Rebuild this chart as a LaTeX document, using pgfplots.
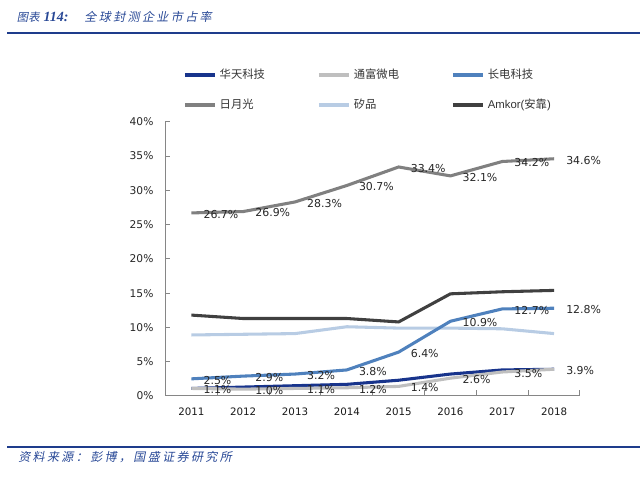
\documentclass[border=0pt]{standalone}
\usepackage{pgfplots}
\pgfplotsset{compat=1.18}
\usepackage{fontspec}
\setmainfont{DejaVu Sans}
\newfontfamily\cjk{Noto Sans CJK SC}
\newfontfamily\cjkit[FakeSlant=0.2]{Noto Sans CJK SC}
\newfontfamily\cjkitsp[FakeSlant=0.2,LetterSpace=20]{Noto Sans CJK SC}
\newfontfamily\tnr{Liberation Serif}
\newfontfamily\arial{Liberation Sans}
\definecolor{huatian}{RGB}{24,52,140}
\definecolor{tongfu}{RGB}{191,191,191}
\definecolor{changdian}{RGB}{79,129,189}
\definecolor{riyue}{RGB}{128,128,128}
\definecolor{xipin}{RGB}{184,204,228}
\definecolor{amkor}{RGB}{64,64,64}
\definecolor{axisgray}{RGB}{134,134,134}
\definecolor{titleblue}{RGB}{40,72,150}
\definecolor{ruleblue}{RGB}{30,60,140}
\pgfkeys{/pgf/number format/assume math mode=true}
\begin{document}
\begin{tikzpicture}
\path[use as bounding box] (0,0) rectangle (480pt,363pt);
\node[anchor=west, inner sep=0pt, text=titleblue] at (12.5pt,350.6pt)
  {\fontsize{8.5}{10}\cjkit 图表\hspace{3pt}{\fontsize{10.5}{12}\tnr\bfseries\itshape 114:}\hspace{12pt}\fontsize{9}{10}\cjkitsp 全球封测企业市占率};
\draw[ruleblue, line width=1.6pt] (5.25pt,338pt) -- (480pt,338pt);
\draw[ruleblue, line width=1.6pt] (5.25pt,27.5pt) -- (480pt,27.5pt);
\node[anchor=west, inner sep=0pt, text=titleblue] at (13.5pt,20.5pt)
  {\fontsize{9}{10}\cjkitsp 资料来源：彭博，国盛证券研究所};
\begin{axis}[
  at={(124.1pt,66pt)}, anchor=south west,
  scale only axis, width=310.9pt, height=205.7pt,
  xmin=-0.5, xmax=7.5, ymin=0, ymax=40,
  clip=false,
  axis lines=left,
  axis line style={-, draw=axisgray, line width=0.75pt},
  xtick={0,1,2,3,4,5,6,7},
  xticklabels={2011,2012,2013,2014,2015,2016,2017,2018},
  major x tick style={draw=none},
  minor xtick={-0.5,0.5,1.5,2.5,3.5,4.5,5.5,6.5,7.5},
  ytick={0,5,10,15,20,25,30,35,40},
  yticklabel={\pgfmathprintnumber{\tick}\%},
  /pgf/number format/assume math mode=true,
  tick align=inside,
  major tick length=3.5pt, minor tick length=4.5pt,
  tick style={axisgray, line width=0.75pt},
  yticklabel style={font=\fontsize{8}{9}\selectfont, text=black!85, xshift=-5.5pt},
  xticklabel style={font=\fontsize{7.7}{9}\selectfont, text=black!90, yshift=-5.5pt},
  legend columns=3,
  legend cell align=left,
  legend image code/.code={\draw[#1] (0pt,0pt) -- (22.5pt,0pt);},
  legend style={at={(0.0431,1.1923)}, anchor=north west, draw=none, fill=none,
    inner sep=0pt, outer sep=0pt, column sep=0pt, row sep=13.5pt,
    nodes={inner sep=0pt, text height=7.5pt, text depth=1.5pt,
      font=\fontsize{8.5}{10}\selectfont, text=black!80}},
  every axis plot/.append style={line width=2.3pt},
  lab/.style={nodes near coords={\pgfmathprintnumber[fixed,fixed zerofill,precision=1,assume math mode=true]{\pgfplotspointmeta}\%},
    every node near coord/.append style={anchor=west, inner sep=0pt, xshift=8pt, yshift=-1pt,
      font=\fontsize{8.2}{9}\selectfont, text=black!85}},
]
% 华天科技
\addplot[huatian, forget plot] coordinates {(0,1.1) (1,1.3) (2,1.5) (3,1.7) (4,2.3) (5,3.2) (6,3.8) (7,3.9)};
% 矽品
\addplot[xipin, forget plot] coordinates {(0,8.9) (1,9.0) (2,9.1) (3,10.1) (4,9.9) (5,9.9) (6,9.8) (7,9.1)};
% Amkor
\addplot[amkor, forget plot] coordinates {(0,11.8) (1,11.3) (2,11.3) (3,11.3) (4,10.8) (5,14.9) (6,15.2) (7,15.4)};
% 通富微电
\addplot[tongfu, forget plot, lab] coordinates {(0,1.1) (1,1.0) (2,1.1) (3,1.2) (4,1.4) (5,2.6) (6,3.5) (7,3.9)};
% 长电科技
\addplot[changdian, forget plot, lab] coordinates {(0,2.5) (1,2.9) (2,3.2) (3,3.8) (4,6.4) (5,10.9) (6,12.7) (7,12.8)};
% 日月光
\addplot[riyue, forget plot, lab] coordinates {(0,26.7) (1,26.9) (2,28.3) (3,30.7) (4,33.4) (5,32.1) (6,34.2) (7,34.6)};
\addlegendimage{huatian, line width=2.3pt}
\addlegendentry{\hspace{2.5pt}\makebox[73.25pt][l]{\cjk 华天科技}}
\addlegendimage{tongfu, line width=2.3pt}
\addlegendentry{\hspace{2.5pt}\makebox[73.25pt][l]{\cjk 通富微电}}
\addlegendimage{changdian, line width=2.3pt}
\addlegendentry{\hspace{2.5pt}\makebox[73.25pt][l]{\cjk 长电科技}}
\addlegendimage{riyue, line width=2.3pt}
\addlegendentry{\hspace{2.5pt}\makebox[73.25pt][l]{\cjk 日月光}}
\addlegendimage{xipin, line width=2.3pt}
\addlegendentry{\hspace{2.5pt}\makebox[73.25pt][l]{\cjk 矽品}}
\addlegendimage{amkor, line width=2.3pt}
\addlegendentry{\hspace{2.5pt}\makebox[73.25pt][l]{\arial Amkor(\cjk 安靠\arial )}}
\end{axis}
\end{tikzpicture}
\end{document}
